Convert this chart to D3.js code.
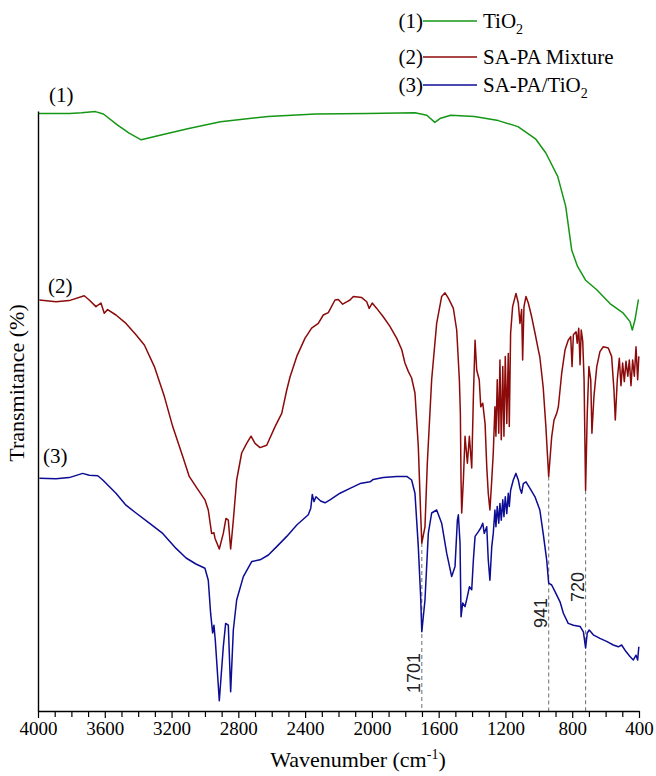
<!DOCTYPE html>
<html>
<head>
<meta charset="utf-8">
<script src="https://cdn.jsdelivr.net/npm/d3@7/dist/d3.min.js"></script>
<style>
  html, body { margin: 0; padding: 0; background: #fff; }
  svg { display: block; }
  .serif { font-family: 'Liberation Serif', 'Times New Roman', Times, serif; }
  .sans { font-family: 'Liberation Sans', Arial, Helvetica, sans-serif; }
</style>
</head>
<body>
<svg id="chart" width="656" height="776"></svg>
<script>
// FTIR spectra: [wavenumber (cm-1), stacked transmittance]
const tio2 = [
  [4000,99.6],[3810,99.6],[3739,99.7],[3656,99.9],[3608,99.5],[3525,97.7],[3454,96.3],[3382,95.2],
  [3263,96.0],[3097,97.1],[2907,98.2],[2622,99.1],[2337,99.5],[2028,99.6],[1742,99.7],[1671,99.3],
  [1623,98.1],[1588,98.8],[1528,99.3],[1386,99.1],[1243,98.4],[1125,97.4],[1018,95.3],[958,93.0],
  [887,89.1],[839,84.1],[803,76.8],[768,74.1],[720,71.8],[653,70.2],[574,67.9],[494,66.3],
  [454,64.9],[440,63.5],[424,65.2],[404,68.5],[401,68.5]
];

const saPaMixture = [
  [3992,68.5],[3892,68.2],[3813,68.4],[3723,69.2],[3693,68.5],[3653,67.4],[3623,68.0],[3603,66.3],
  [3583,66.9],[3533,66.0],[3473,64.6],[3413,62.7],[3363,61.0],[3303,57.4],[3243,52.4],[3193,47.4],
  [3133,42.4],[3094,39.1],[3054,37.4],[3000,35.2],[2980,33.5],[2960,29.6],[2946,29.7],[2940,28.8],
  [2914,27.0],[2890,29.6],[2874,32.1],[2860,31.8],[2846,27.0],[2830,31.8],[2810,38.5],[2780,43.0],
  [2750,44.6],[2724,45.8],[2700,44.6],[2670,43.9],[2630,44.3],[2580,47.4],[2540,49.6],[2510,53.5],
  [2490,55.7],[2450,59.1],[2401,62.1],[2361,63.8],[2321,64.6],[2291,66.0],[2261,66.4],[2221,68.5],
  [2201,68.6],[2175,67.8],[2151,68.2],[2131,68.5],[2111,69.1],[2061,68.9],[2031,68.2],[2016,67.1],
  [1998,68.0],[1971,67.1],[1932,65.7],[1892,64.1],[1851,62.1],[1821,60.2],[1802,58.0],[1782,56.6],
  [1762,55.5],[1742,53.0],[1722,44.1],[1708,33.0],[1701,28.0],[1682,30.7],[1668,41.3],[1642,55.2],
  [1612,64.6],[1582,69.1],[1562,69.7],[1542,68.8],[1512,67.1],[1492,63.5],[1476,55.2],[1470,49.6],
  [1466,38.5],[1462,33.0],[1452,38.5],[1442,45.8],[1428,41.3],[1416,45.8],[1402,40.5],[1392,52.4],
  [1382,61.8],[1372,56.8],[1357,55.2],[1348,50.7],[1336,51.3],[1322,47.9],[1312,40.7],[1303,36.3],
  [1293,33.5],[1282,38.5],[1273,43.0],[1263,50.7],[1257,45.8],[1249,55.2],[1240,46.3],[1233,58.5],
  [1225,45.2],[1216,57.4],[1209,45.8],[1201,59.1],[1192,47.9],[1183,59.6],[1177,47.4],[1169,63.0],
  [1157,67.4],[1137,69.6],[1123,68.0],[1113,64.6],[1103,66.9],[1097,58.5],[1089,67.4],[1077,69.1],
  [1063,68.0],[1043,65.7],[1023,63.0],[1003,60.2],[994,59.0],[974,54.0],[958,47.5],[948,42.5],
  [941,39.1],[923,45.7],[909,48.5],[893,49.6],[883,50.7],[863,56.3],[843,60.2],[824,61.8],
  [809,62.4],[801,57.4],[793,62.7],[777,63.2],[770,61.3],[761,63.8],[753,57.7],[746,63.5],
  [737,61.6],[729,55.2],[720,36.8],[710,49.6],[700,57.4],[689,55.2],[682,46.3],[670,52.4],
  [653,57.4],[634,59.9],[614,60.7],[584,60.5],[564,59.1],[550,53.5],[542,48.5],[530,55.2],
  [518,58.8],[508,54.2],[498,58.0],[488,54.9],[478,58.3],[467,55.8],[458,58.5],[448,54.2],
  [438,58.5],[428,55.8],[418,60.7],[408,55.2],[401,59.1]
];

const saPaTio2 = [
  [3992,38.8],[3892,38.7],[3813,38.9],[3732,39.6],[3693,39.3],[3642,39.2],[3612,38.5],[3533,36.3],
  [3473,34.3],[3413,33.0],[3333,31.3],[3253,29.6],[3173,27.1],[3113,25.5],[3054,24.5],[3000,23.8],
  [2980,21.8],[2966,16.3],[2954,13.0],[2946,14.3],[2938,11.8],[2914,1.7],[2890,10.7],[2876,14.6],
  [2860,14.3],[2846,3.2],[2830,13.5],[2810,18.5],[2770,22.4],[2720,24.9],[2670,25.2],[2620,26.0],
  [2570,27.4],[2510,29.1],[2450,31.0],[2381,32.7],[2366,33.8],[2357,36.1],[2347,34.9],[2335,35.7],
  [2307,35.0],[2281,34.7],[2251,35.2],[2191,36.3],[2131,37.1],[2071,37.9],[2011,38.2],[1992,38.6],
  [1932,38.9],[1851,39.1],[1791,39.1],[1762,38.5],[1742,36.3],[1722,27.4],[1708,19.1],[1701,13.2],
  [1682,18.5],[1662,29.6],[1642,33.0],[1612,33.5],[1582,31.3],[1552,26.3],[1522,22.4],[1502,24.1],
  [1488,31.8],[1482,32.7],[1472,28.0],[1466,15.7],[1456,18.0],[1442,17.4],[1428,19.1],[1416,20.7],
  [1402,20.2],[1392,25.2],[1382,29.1],[1362,29.9],[1348,30.5],[1336,31.3],[1327,29.6],[1312,30.7],
  [1303,25.2],[1293,21.8],[1282,27.4],[1273,29.6],[1263,33.5],[1257,30.7],[1249,34.1],[1240,31.3],
  [1233,34.6],[1225,31.8],[1216,35.2],[1209,32.4],[1201,35.7],[1192,32.9],[1183,36.3],[1177,34.1],
  [1169,36.8],[1153,38.5],[1137,39.6],[1123,38.5],[1113,37.1],[1103,36.3],[1093,37.9],[1077,38.2],
  [1053,37.1],[1023,35.7],[994,33.5],[974,29.6],[953,25.2],[941,21.3],[923,21.0],[903,19.9],
  [873,18.2],[853,16.3],[824,14.6],[793,14.3],[753,14.1],[733,13.2],[720,10.5],[710,13.0],
  [698,13.5],[674,12.7],[634,12.1],[594,11.6],[554,11.0],[524,10.7],[504,11.0],[478,9.9],
  [454,9.1],[434,8.5],[418,9.3],[408,8.5],[401,10.7]
];

const majorTicks = [4000, 3600, 3200, 2800, 2400, 2000, 1600, 1200, 800, 400];
const minorTicks = d3.range(4000, 399, -100).filter(v => v % 400 !== 0);

// marked absorption bands
const bandPositions = [1701, 941, 720];
const bandLabels = ["1701", "941", "720"];

const seriesTags = ["(1)", "(2)", "(3)"];
const seriesNames = [
  [["TiO", ""], ["2", "sub"]],
  [["SA-PA Mixture", ""]],
  [["SA-PA/TiO", ""], ["2", "sub"]]
];
const seriesColors = ["#159615", "#8c0a0a", "#0c0c94"];
const seriesData = [tio2, saPaMixture, saPaTio2];

const svg = d3.select("#chart");
const x = d3.scaleLinear().domain([4000, 400]).range([38, 639]);
const y = d3.scaleLinear().domain([0, 100]).range([711, 111]);

// dashed guides from the SA-PA mixture band minimum down to the axis
const valueAt = (data, wn) => {
  const p = data.find(d => d[0] === wn);
  return p ? p[1] : 0;
};
svg.append("g").selectAll("line")
  .data(bandPositions)
  .join("line")
  .attr("x1", d => x(d)).attr("x2", d => x(d))
  .attr("y1", d => y(valueAt(saPaMixture, d)))
  .attr("y2", y(0))
  .attr("stroke", "#7a7a7a")
  .attr("stroke-width", 1.1)
  .attr("stroke-dasharray", "4,3");

// spectra
const line = d3.line().x(d => x(d[0])).y(d => y(d[1]));
svg.append("g").selectAll("path")
  .data(seriesData)
  .join("path")
  .attr("d", d => line(d))
  .attr("fill", "none")
  .attr("stroke", (d, i) => seriesColors[i])
  .attr("stroke-width", 1.5)
  .attr("stroke-linejoin", "round");

// band labels, rotated, set just left of each guide
const bandLabelBottom = { 1701: 693, 941: 628, 720: 602 };
svg.append("g").selectAll("text")
  .data(bandPositions)
  .join("text")
  .attr("class", "sans")
  .attr("transform", d => `translate(${x(d) - 2},${bandLabelBottom[d]}) rotate(-90)`)
  .attr("font-size", 18)
  .attr("fill", "#222")
  .text((d, i) => bandLabels[i]);

// x axis
const xAxis = svg.append("g").attr("transform", `translate(0,${y(0)})`);
xAxis.call(d3.axisBottom(x).tickValues(majorTicks).tickSize(7).tickSizeOuter(0)
  .tickPadding(4).tickFormat(d3.format("d")));
xAxis.append("g").call(d3.axisBottom(x).tickValues(minorTicks).tickSize(6)
  .tickSizeOuter(0).tickFormat(""))
  .select(".domain").remove();
xAxis.attr("font-family", null);
xAxis.selectAll("g").attr("font-family", null);
xAxis.selectAll(".domain").attr("stroke", "#000").attr("stroke-width", 1.4);
xAxis.selectAll(".tick line").attr("stroke", "#000").attr("stroke-width", 1.2);
xAxis.selectAll(".tick text")
  .attr("class", "serif")
  .style("font-family", "'Liberation Serif', 'Times New Roman', Times, serif")
  .attr("font-size", 19).attr("fill", "#000");

// y axis (no ticks)
const yAxis = svg.append("g").attr("transform", `translate(${x(4000)},0)`);
yAxis.call(d3.axisLeft(y).tickValues([]).tickSizeOuter(0));
yAxis.select(".domain").attr("stroke", "#000").attr("stroke-width", 1.4);

// axis titles
const xt = svg.append("text")
  .attr("class", "serif")
  .attr("x", 358).attr("y", 767)
  .attr("text-anchor", "middle")
  .attr("font-size", 22).attr("fill", "#000");
xt.append("tspan").text("Wavenumber (cm");
xt.append("tspan").attr("dy", -8).attr("font-size", 14).text("-1");
xt.append("tspan").attr("dy", 8).text(")");

svg.append("text")
  .attr("class", "serif")
  .attr("transform", "translate(24,383) rotate(-90)")
  .attr("text-anchor", "middle")
  .attr("font-size", 22).attr("fill", "#000")
  .text("Transmitance (%)");

// curve tags next to each spectrum
const tagPos = [[49, 102], [48, 293], [43, 463]];
svg.append("g").selectAll("text")
  .data(seriesTags)
  .join("text")
  .attr("class", "serif")
  .attr("x", (d, i) => tagPos[i][0])
  .attr("y", (d, i) => tagPos[i][1])
  .attr("font-size", 21).attr("fill", "#000")
  .text(d => d);

// legend
const legendRowY = [21, 57, 85];
const legend = svg.append("g");
seriesTags.forEach((tag, i) => {
  const ry = legendRowY[i];
  legend.append("text")
    .attr("class", "serif")
    .attr("x", 423).attr("y", ry + 7)
    .attr("text-anchor", "end")
    .attr("font-size", 21).attr("fill", "#000")
    .text(tag);
  legend.append("line")
    .attr("x1", 423).attr("x2", 477).attr("y1", ry).attr("y2", ry)
    .attr("stroke", seriesColors[i]).attr("stroke-width", 1.5);
  const t = legend.append("text")
    .attr("class", "serif")
    .attr("x", 483).attr("y", ry + 7)
    .attr("font-size", 21).attr("fill", "#000");
  seriesNames[i].forEach(([s, kind]) => {
    if (kind === "sub") {
      t.append("tspan").attr("dy", 6).attr("font-size", 14).text(s);
    } else {
      t.append("tspan").text(s);
    }
  });
});
</script>
</body>
</html>
